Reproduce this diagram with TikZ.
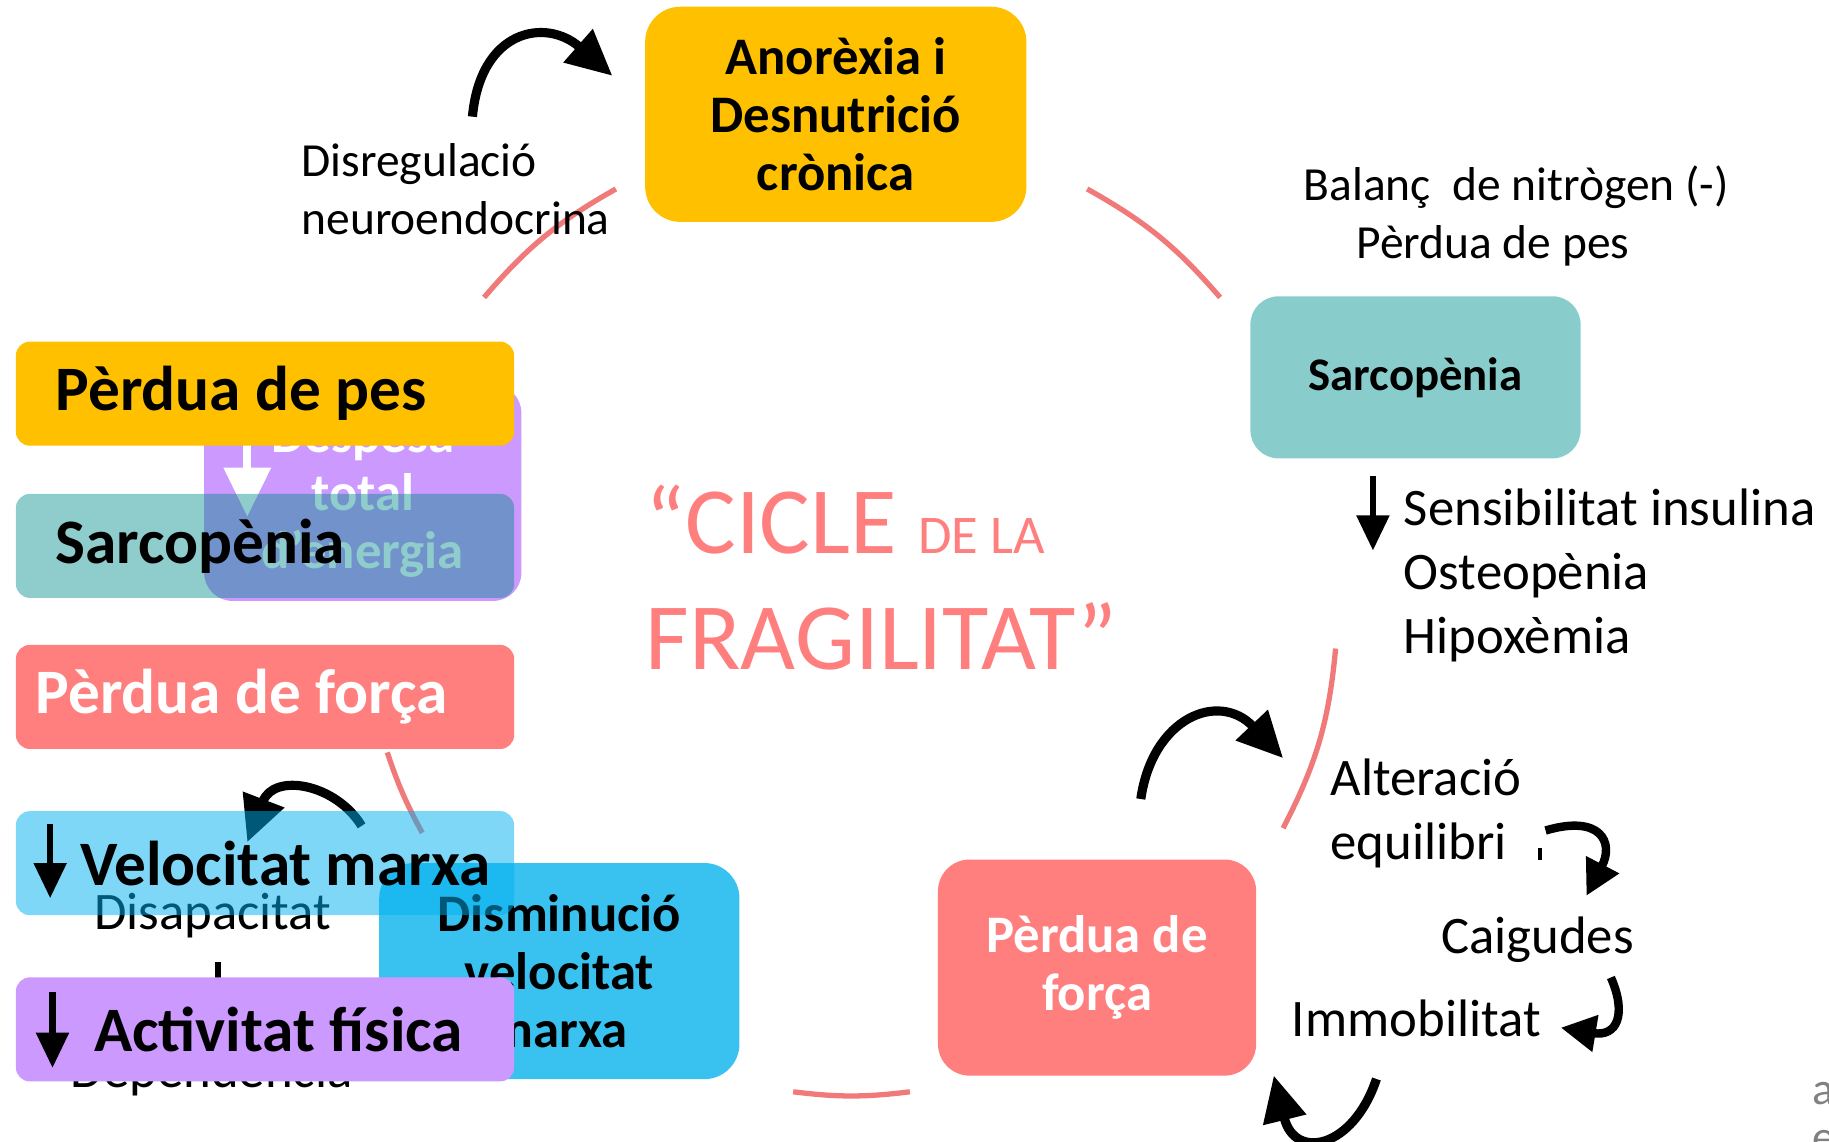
\documentclass[tikz,border=0pt]{standalone}
\usepackage{fontspec}
\setmainfont{Carlito}
\usetikzlibrary{arrows.meta,positioning,calc}
\definecolor{gold}{RGB}{255,192,0}
\definecolor{tealLight}{RGB}{137,204,204}
\definecolor{tealDark}{RGB}{0,139,139}
\definecolor{salmon}{RGB}{255,127,127}
\definecolor{arcRed}{RGB}{240,122,122}
\definecolor{lilac}{RGB}{204,153,255}
\definecolor{skyBlue}{RGB}{57,194,240}
\definecolor{cyanFill}{RGB}{0,176,240}
\definecolor{greyText}{RGB}{128,128,128}

\begin{document}
\begin{tikzpicture}[x=0.011665cm, y=-0.011665cm,
        bigbox/.style={rectangle, rounded corners=10pt, align=center, inner sep=0pt, font=\fontsize{15}{16.5}\selectfont\bfseries},
        sidebox/.style={rectangle, rounded corners=4pt, minimum width=4.98cm, minimum height=1.04cm, inner sep=0pt, anchor=west},
        sidetext/.style={anchor=west, inner sep=0pt, font=\fontsize{18}{21}\selectfont\bfseries},
        note/.style={anchor=west, align=left, inner sep=0pt, font=\fontsize{15}{18.2}\selectfont},
        smallnote/.style={anchor=west, align=left, inner sep=0pt, font=\fontsize{13.5}{16.5}\selectfont},
        cyclearc/.style={draw=arcRed, line width=1.5pt},
        handarrow/.style={-{Triangle[length=13pt,width=12pt]}, line width=2.6pt},
        smallhand/.style={-{Triangle[length=10pt,width=10pt]}, line width=2.4pt},
        downarrow/.style={-{Triangle[length=10pt,width=9pt]}, line width=1.8pt},
    ]
        \useasboundingbox (0,0) rectangle (1568,979);

        % Cycle arcs
        \coordinate (ulA) at (415,255);  \coordinate (ulB) at (528,162);
        \coordinate (urA) at (932,162);  \coordinate (urB) at (1046,255);
        \coordinate (rA) at (1145,556);  \coordinate (rB) at (1100,710);
        \coordinate (bA) at (780,936);   \coordinate (bB) at (680,936);
        \coordinate (lA) at (362,714);   \coordinate (lB) at (332,645);
        \draw[cyclearc] (ulA) to[bend left=10] (ulB);
        \draw[cyclearc] (urA) to[bend left=10] (urB);
        \draw[cyclearc] (rA) to[bend left=11] (rB);
        \draw[cyclearc] (bA) to[bend left=7] (bB);
        \draw[cyclearc] (lA) to[bend left=5] (lB);

        % Cycle boxes
        \node[bigbox, fill=gold, minimum width=3.81cm, minimum height=2.15cm] (anorexia) at (716.5,98) {Anorèxia i\\Desnutrició\\crònica};
        \node[bigbox, fill=tealLight, rounded corners=8pt, minimum width=3.30cm, minimum height=1.62cm, font=\fontsize{13.3}{16}\selectfont\bfseries] (sarcR) at (1213.5,323.5) {Sarcopènia};
        \node[bigbox, fill=salmon, text=white, rounded corners=9pt, minimum width=3.18cm, minimum height=2.16cm] (forcaR) at (940.5,829.5) {Pèrdua de\\força};

        % Notes
        \node[smallnote] (disreg) at (258,162) {Disregulació\\neuroendocrina};
        \node[smallnote] (balanc) at (1117,185) {Balanç~~de nitrògen (-)\\\hspace*{15pt}Pèrdua de pes};
        \node[note] (sensib) at (1203,493) {Sensibilitat insulina\\Osteopènia\\Hipoxèmia};
        \node[note] (alter) at (1140,697) {Alteració\\equilibri};
        \node[note] (caig) at (1235,806) {Caigudes};
        \node[note] (immob) at (1107,873) {Immobilitat};
        \node[anchor=west, align=left, inner sep=0pt, text=greyText, font=\fontsize{13}{13.5}\selectfont] (corner) at (1553,958) {a\\e};
        \draw[downarrow] ($(sensib.west)+(-26,-85)$) -- ($(sensib.west)+(-26,-21)$);

        % Title
        \node[anchor=west, align=left, inner sep=0pt, text=salmon, font=\fontsize{27}{33}\selectfont] (titol) at (553,495) {“CICLE {\fontsize{15.5}{18}\selectfont DE LA}\\FRAGILITAT”};

        % Hand drawn arrows
        \coordinate (h1s) at (405,100);   \coordinate (h1e) at (525,65);
        \coordinate (h2s) at (978,685);   \coordinate (h2e) at (1100,650);
        \coordinate (h3s) at (1325,712);  \coordinate (h3e) at (1360,768);
        \coordinate (h4s) at (1381,838);  \coordinate (h4e) at (1338,881);
        \coordinate (h5s) at (1180,925);  \coordinate (h5e) at (1092,922);
        \coordinate (h6s) at (310,708);   \coordinate (h6e) at (212,722);
        \draw[handarrow] (h1s) .. controls (412,25) and (468,15) .. (h1e);
        \draw[handarrow] (h2s) .. controls (988,615) and (1045,592) .. (h2e);
        \draw[smallhand] (h3s) .. controls (1372,698) and (1384,722) .. (h3e);
        \draw[line width=1.2pt] (1320,727) -- (1320,737);
        \draw[smallhand] (h4s) .. controls (1395,870) and (1386,889) .. (h4e);
        \draw[handarrow] (h5s) .. controls (1160,985) and (1110,995) .. (h5e);
        \draw[handarrow] (h6s) .. controls (288,672) and (235,662) .. (h6e);

        % Left stack
        \node[note] (disap) at (80,785) {Disapacitat};
        \node[note] (depen) at (60,920) {Dependència};
        \draw[downarrow] (187,825) -- (187,895);

        \node[bigbox, fill=skyBlue, minimum width=3.60cm, minimum height=2.16cm] (dismin) at (479.5,832.5) {Disminució\\velocitat\\marxa};

        \node[rectangle, fill=lilac, rounded corners=8pt, minimum width=3.17cm, minimum height=2.16cm] (despesa) at (311,422.5) {};
        \node[bigbox, text=white] (despesaText) at (311,427) {Despesa\\total\\d’energia};
        \draw[-{Triangle[length=14pt,width=13pt]}, line width=2.3pt, white] (212,355) -- (212,443);

        \node[sidebox, fill=gold] (pesBox) at (13,337.5) {};
        \node[sidetext] (pes) at ($(pesBox.west)+(34,0)$) {Pèrdua de pes};

        \node[sidebox, fill=tealDark, fill opacity=0.44] (sarcBox) at (13,468) {};
        \node[sidetext] (sarcL) at ($(sarcBox.west)+(34,0)$) {Sarcopènia};

        \node[sidebox, fill=salmon] (forcaBox) at (13,597.5) {};
        \node[sidetext, text=white] (forcaL) at ($(forcaBox.west)+(17,0)$) {Pèrdua de força};

        \node[sidebox, fill=cyanFill, fill opacity=0.5] (velBox) at (13,740) {};
        \node[sidetext] (vel) at ($(velBox.west)+(55,0)$) {Velocitat marxa};
        \draw[downarrow] ($(velBox.west)+(30,-34)$) -- ($(velBox.west)+(30,30)$);

        \node[sidebox, fill=lilac] (actBox) at (13,882.5) {};
        \node[sidetext] (act) at ($(actBox.west)+(67,0)$) {Activitat física};
        \draw[downarrow] ($(actBox.west)+(32,-32)$) -- ($(actBox.west)+(32,33)$);

    \end{tikzpicture}
\end{document}
